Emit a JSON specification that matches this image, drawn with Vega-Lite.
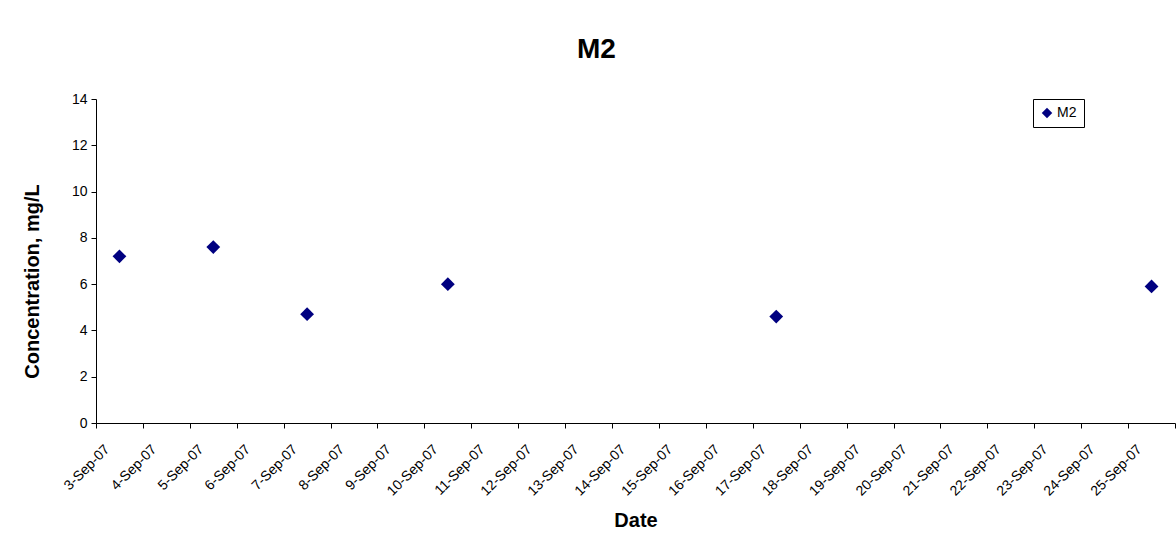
{
  "$schema": "https://vega.github.io/schema/vega-lite/v6.json",
  "autosize": {"type": "none"},
  "padding": {"left": 96, "top": 99, "right": 1, "bottom": 122},
  "width": 1079,
  "height": 324,
  "background": "white",
  "config": {
    "view": {"stroke": null},
    "font": "Liberation Sans"
  },
  "title": {
    "text": "M2",
    "fontSize": 28,
    "fontWeight": "bold",
    "font": "Liberation Sans",
    "color": "black",
    "anchor": "middle",
    "dx": -39,
    "offset": 6,
    "baseline": "alphabetic"
  },
  "data": {
    "values": [
      {"Date": "2007-09-03T12:00:00Z", "Concentration": 7.2, "Series": "M2"},
      {"Date": "2007-09-05T12:00:00Z", "Concentration": 7.6, "Series": "M2"},
      {"Date": "2007-09-07T12:00:00Z", "Concentration": 4.7, "Series": "M2"},
      {"Date": "2007-09-10T12:00:00Z", "Concentration": 6.0, "Series": "M2"},
      {"Date": "2007-09-17T12:00:00Z", "Concentration": 4.6, "Series": "M2"},
      {"Date": "2007-09-25T12:00:00Z", "Concentration": 5.9, "Series": "M2"}
    ]
  },
  "mark": {"type": "point", "shape": "diamond", "filled": true, "size": 190, "opacity": 1},
  "encoding": {
    "x": {
      "field": "Date",
      "type": "temporal",
      "scale": {
        "type": "utc",
        "domain": [
          {"year": 2007, "month": 9, "date": 3, "utc": true},
          {"year": 2007, "month": 9, "date": 26, "utc": true}
        ],
        "nice": false
      },
      "axis": {
        "title": "Date",
        "titleFontSize": 20,
        "titleFontWeight": "bold",
        "titleColor": "black",
        "titlePadding": 12,
        "tickCount": {"interval": "day", "step": 1},
        "labelExpr": "utcdate(datum.value) == 26 ? '' : utcFormat(datum.value, '%-d-%b-%y')",
        "labelAngle": -45,
        "labelAlign": "right",
        "labelBaseline": "middle",
        "labelFontSize": 14,
        "labelColor": "black",
        "labelOverlap": false,
        "labelFlush": false,
        "labelPadding": 19,
        "labelOffset": 11,
        "grid": false,
        "tickSize": 5,
        "tickColor": "black",
        "domainColor": "black",
        "domainWidth": 1
      }
    },
    "y": {
      "field": "Concentration",
      "type": "quantitative",
      "scale": {"domain": [0, 14], "nice": false},
      "axis": {
        "title": "Concentration, mg/L",
        "titleFontSize": 20,
        "titleFontWeight": "bold",
        "titleColor": "black",
        "titlePadding": 29,
        "titleY": 182,
        "values": [0, 2, 4, 6, 8, 10, 12, 14],
        "labelFontSize": 14,
        "labelColor": "black",
        "labelPadding": 4,
        "grid": false,
        "tickSize": 5,
        "tickColor": "black",
        "domainColor": "black"
      }
    },
    "color": {
      "field": "Series",
      "type": "nominal",
      "scale": {"range": ["#000080"]},
      "legend": {
        "title": null,
        "orient": "none",
        "legendX": 937,
        "legendY": 0,
        "strokeColor": "black",
        "fillColor": "white",
        "padding": 7,
        "symbolType": "diamond",
        "symbolSize": 110,
        "symbolStrokeWidth": 0,
        "labelFontSize": 14,
        "labelColor": "black",
        "labelOffset": 3
      }
    }
  }
}
